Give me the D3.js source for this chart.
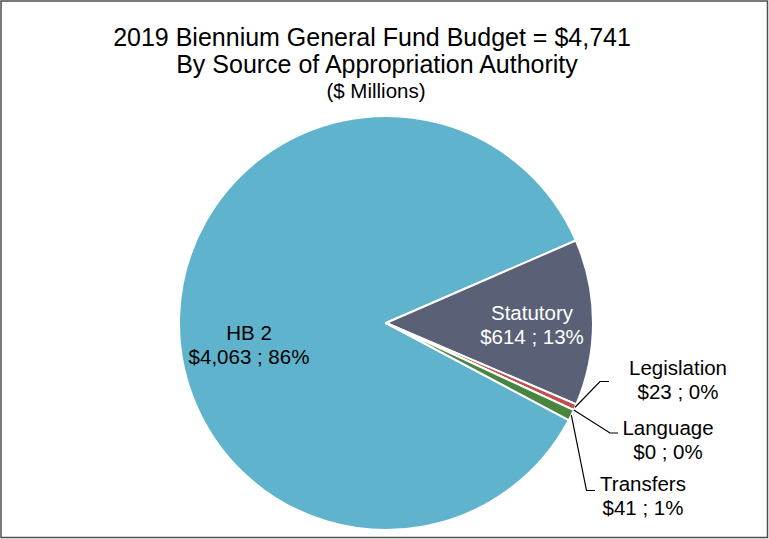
<!DOCTYPE html>
<html>
<head>
<meta charset="utf-8">
<script src="https://cdn.jsdelivr.net/npm/d3@7"></script>
<style>
  html, body { margin: 0; padding: 0; background: #fff; }
  svg { display: block; font-family: "Liberation Sans", Arial, sans-serif; }
</style>
</head>
<body>
<svg id="chart" width="769" height="539"></svg>
<script>
// Appropriation sources ($ millions), in drawing order
const categories = ["HB 2", "Statutory", "Legislation", "Language", "Transfers"];
const values = [4063, 614, 23, 0, 41];
const percentLabels = ["86%", "13%", "0%", "0%", "1%"];
const sliceColors = ["#5fb3cc", "#5a6177", "#c0504d", "#9bbb59", "#4a8540"];
const titleLines = ["2019 Biennium General Fund Budget = $4,741", "By Source of Appropriation Authority"];
const subtitle = "($ Millions)";

const W = 769, H = 539;
const cx = 386, cy = 323, R = 207;
const svg = d3.select("#chart");

// outer frame
svg.append("rect")
  .attr("x", 1).attr("y", 1).attr("width", W - 2.5).attr("height", H - 2.5)
  .attr("fill", "#fff").attr("stroke", "#4d4d4d").attr("stroke-width", 1.5);

// titles
svg.append("text").attr("x", 372).attr("y", 46).attr("text-anchor", "middle")
  .attr("font-size", 25).attr("fill", "#000").text(titleLines[0]);
svg.append("text").attr("x", 377).attr("y", 73).attr("text-anchor", "middle")
  .attr("font-size", 25).attr("fill", "#000").text(titleLines[1]);
svg.append("text").attr("x", 376).attr("y", 98).attr("text-anchor", "middle")
  .attr("font-size", 20.5).attr("fill", "#000").text(subtitle);

// pie: first slice begins where the wedge order wraps round to HB 2
const firstAngle = (118 * Math.PI) / 180;
const pie = d3.pie().sort(null).value(d => d)
  .startAngle(firstAngle).endAngle(firstAngle + 2 * Math.PI);
const arcs = pie(values);
const arc = d3.arc().innerRadius(0).outerRadius(R);

const g = svg.append("g").attr("transform", `translate(${cx},${cy})`);
g.selectAll("path.slice").data(arcs).enter().append("path")
  .attr("class", "slice")
  .attr("d", arc)
  .attr("fill", (d, i) => sliceColors[i])
  .attr("stroke", "#fff").attr("stroke-width", 2).attr("stroke-linejoin", "round");

const fmt = d3.format("$,");
const labelText = i => `${fmt(values[i])} ; ${percentLabels[i]}`;
const labelSize = 20.5;

// labels inside the two large wedges
const inside = [
  { i: 0, x: 249, y: 333, color: "#000" },
  { i: 1, x: 532, y: 313, color: "#fff" }
];
inside.forEach(o => {
  const t = svg.append("text").attr("text-anchor", "middle")
    .attr("font-size", labelSize).attr("fill", o.color);
  t.append("tspan").attr("x", o.x).attr("y", o.y + 7).text(categories[o.i]);
  t.append("tspan").attr("x", o.x).attr("y", o.y + 31).text(labelText(o.i));
});

// small wedges: labels outside with elbow leader lines
const outside = [
  { i: 2, x: 678, y: 368, elbow: [600, 381.5], end: [609, 381.5] },
  { i: 3, x: 668, y: 428, elbow: [610, 433], end: [618, 433] },
  { i: 4, x: 643, y: 484, elbow: [586.5, 490.5], end: [595, 490.5] }
];
outside.forEach(o => {
  const a = arcs[o.i];
  const mid = (a.startAngle + a.endAngle) / 2;
  const px = cx + Math.sin(mid) * R;
  const py = cy - Math.cos(mid) * R;
  svg.append("polyline")
    .attr("points", [[px, py], o.elbow, o.end].map(p => p.join(",")).join(" "))
    .attr("fill", "none").attr("stroke", "#000").attr("stroke-width", 1.2);
  const t = svg.append("text").attr("text-anchor", "middle")
    .attr("font-size", labelSize).attr("fill", "#000");
  t.append("tspan").attr("x", o.x).attr("y", o.y + 7).text(categories[o.i]);
  t.append("tspan").attr("x", o.x).attr("y", o.y + 31).text(labelText(o.i));
});
</script>
</body>
</html>
